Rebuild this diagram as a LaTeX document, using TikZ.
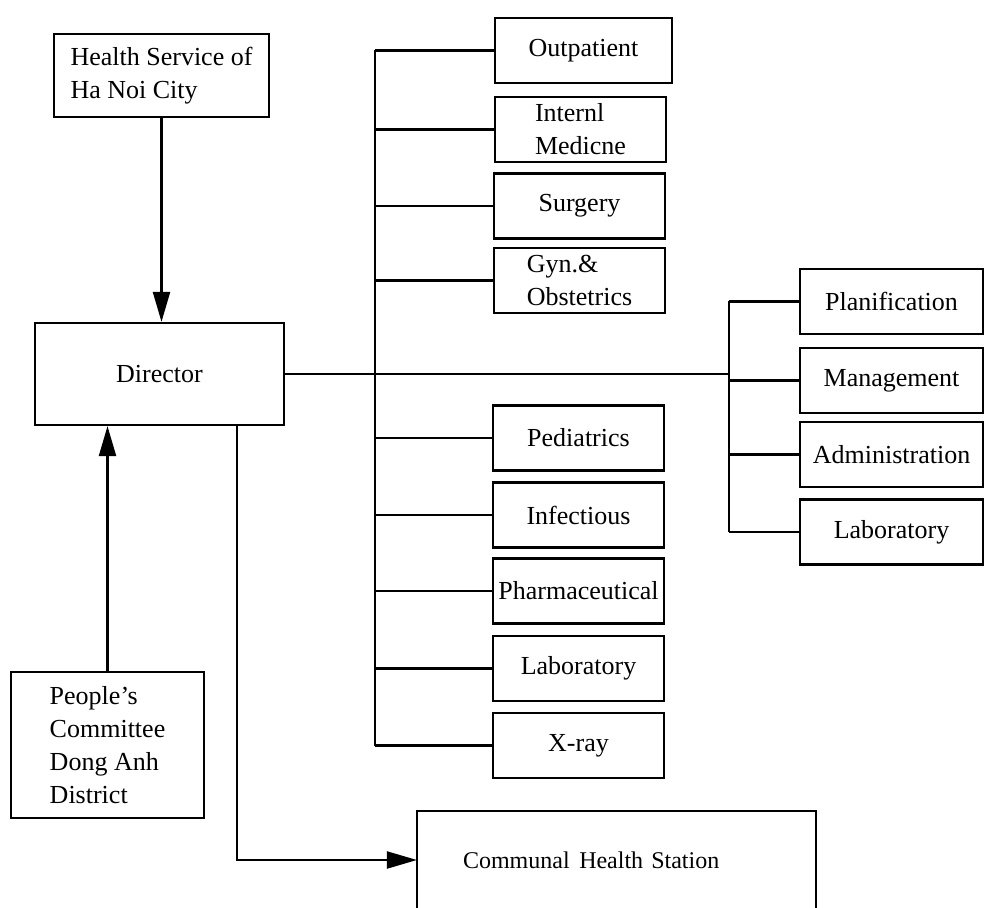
\documentclass[tikz,border=0pt]{standalone}
\usepackage{fontspec}
\setmainfont{Liberation Serif}
\usetikzlibrary{arrows.meta}

\begin{document}
\begin{tikzpicture}[auto, x=0.5pt, y=-0.5pt, line width=1.1pt,
    >={Triangle[length=15pt,width=8.5pt]},
    unit/.style ={draw, inner sep=2pt, align=left,
                  font=\fontsize{13}{16.5}\selectfont},
    dept/.style ={unit, minimum width=85.5pt, minimum height=32.5pt},
    office/.style ={unit, minimum width=91.5pt, minimum height=32.5pt}]
   \useasboundingbox (0,0) rectangle (984,908);

   % left side
   \node[unit, minimum width=107.5pt, minimum height=41.5pt] (hs) at (161.5,75.5) {Health Service of\\Ha Noi City};
   \node[unit, minimum width=124.5pt, minimum height=51pt] (dir) at (159.5,374) {Director};
   \node[unit, minimum width=96.5pt, minimum height=73pt] (pc) at (107.5,745) {People's\\Committee\\Dong Anh\\District};
   \node[unit, draw=none, font=\fontsize{12}{15}\selectfont, inner xsep=22.5pt, text width=153.5pt, minimum height=48pt] (cs) at (616.5,860) {Communal\hspace{0.4em}Health Station};

   % departments
   \node[dept, minimum width=88.5pt] (out) at (583.5,50.5) {Outpatient};
   \node[dept] (imed)  at (580.5,129.5) {Internl\\Medicne};
   \node[dept] (surg)  at (579.5,206)   {Surgery};
   \node[dept] (gyn)   at (579.5,280.5) {Gyn.\&\\Obstetrics};
   \node[dept] (ped)   at (578.5,438)   {Pediatrics};
   \node[dept] (inf)   at (578.5,515)   {Infectious};
   \node[dept] (pharm) at (578.5,591)   {Pharmaceutical};
   \node[dept] (lab)   at (578.5,668.5) {Laboratory};
   \node[dept] (xray)  at (578.5,745.5) {X-ray};

   % offices
   \node[office] (plan)  at (891.5,301.5) {Planification};
   \node[office] (mgmt)  at (891.5,380.5) {Management};
   \node[office] (admin) at (891.5,454.5) {Administration};
   \node[office] (rlab)  at (891.5,532)   {Laboratory};

   \coordinate (lbus) at (375,0);
   \coordinate (rbus) at (729,0);

   % arrows
   \draw[->] (hs.south) -- (hs.south |- dir.north);
   \draw[->] (pc.north) -- (pc.north |- dir.south);
   \draw[->] ([xshift=38.75pt]dir.south) |- (cs.west);
   \draw (cs.south west) -- (cs.north west) -- (cs.north east) -- (cs.south east);

   % left bus
   \draw (out.west -| lbus) -- (xray.west -| lbus);
   \draw (out.west) -- (out.west -| lbus);
   \draw (imed.west) -- (imed.west -| lbus);
   \draw (surg.west) -- (surg.west -| lbus);
   \draw (gyn.west) -- (gyn.west -| lbus);
   \draw (ped.west) -- (ped.west -| lbus);
   \draw (inf.west) -- (inf.west -| lbus);
   \draw (pharm.west) -- (pharm.west -| lbus);
   \draw (lab.west) -- (lab.west -| lbus);
   \draw (xray.west) -- (xray.west -| lbus);

   % right bus
   \draw (dir.east) -- (dir.east -| rbus);
   \draw (plan.west -| rbus) -- (rlab.west -| rbus);
   \draw (plan.west) -- (plan.west -| rbus);
   \draw (mgmt.west) -- (mgmt.west -| rbus);
   \draw (admin.west) -- (admin.west -| rbus);
   \draw (rlab.west) -- (rlab.west -| rbus);
 \end{tikzpicture}
\end{document}
